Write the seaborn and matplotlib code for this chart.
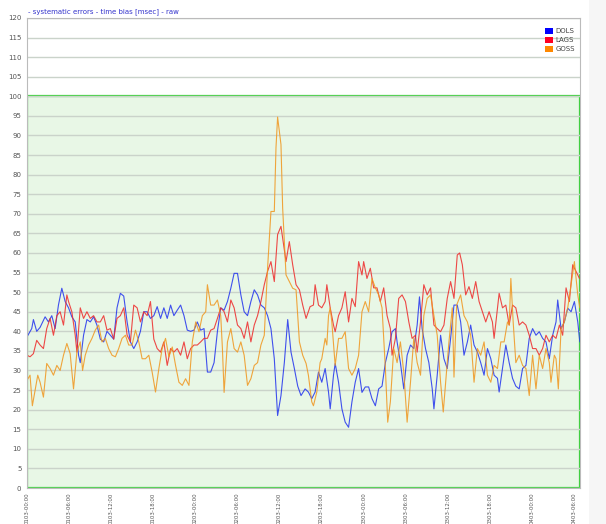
import numpy as np
import pandas as pd
import matplotlib
matplotlib.use("Agg")
import matplotlib.pyplot as plt
from matplotlib.patches import Rectangle, Patch
import seaborn as sns

# ---- data (hours since 01/03 00:00, bias in msec) ----
dols_h = [0.0, 0.67, 0.91, 1.38, 1.86, 2.58, 3.05, 3.53, 4.01, 4.48, 4.96, 5.44, 5.92, 6.39,
          6.87, 7.35, 7.59, 8.06, 8.54, 9.02, 9.49, 9.97, 10.45, 10.93, 11.4, 11.88, 12.36,
          12.83, 13.31, 13.79, 14.27, 14.74, 15.22, 15.7, 16.17, 16.65, 17.13, 17.6, 18.08,
          18.56, 19.04, 19.51, 19.99, 20.47, 20.94, 21.42, 21.9, 22.38, 22.85, 23.33, 23.81,
          24.28, 24.76, 25.24, 25.72, 26.19, 26.67, 27.15, 27.62, 28.1, 28.58, 29.06, 29.53,
          30.01, 30.49, 30.96, 31.44, 31.92, 32.4, 32.87, 33.35, 33.83, 34.3, 34.78, 35.26,
          35.73, 36.21, 36.69, 37.17, 37.64, 38.12, 38.6, 39.07,
          39.65, 40.12, 40.6, 41.08, 41.56, 42.03, 42.51, 42.99, 43.23, 43.7, 43.94, 44.42,
          44.9, 45.37, 45.85, 46.33, 46.8, 47.28, 47.76, 48.23, 48.71, 49.19, 49.67, 50.14,
          50.62, 51.1, 51.57, 52.05, 52.53, 52.77, 53.24, 53.72, 54.2, 54.68, 55.15, 55.63,
          55.96, 56.34, 56.82, 57.3, 57.78, 58.02, 58.49, 58.97, 59.45, 59.92, 60.4, 60.88,
          61.35, 61.83, 62.31, 62.79, 63.26, 63.74, 64.22, 64.69, 65.17, 65.65, 66.13, 66.6,
          67.08, 67.32, 67.8, 68.27, 68.75, 69.23, 69.7, 70.18, 70.66, 71.14, 71.61, 72.09,
          72.57, 73.04, 73.52, 74.0, 74.47, 74.95, 75.43, 75.67, 76.15, 76.62, 77.1, 77.58,
          78.05, 78.53, 78.82]
dols_v = [38.6, 40.7, 43, 40, 41, 43.7, 42.4, 44, 40.7, 46.7, 51, 47.6, 46, 43.7,
          42.4, 33.9, 32, 39, 43, 42.4, 43.7, 41.6, 38, 37.3, 40, 39, 38,
          46, 49.7, 49, 42.4, 37.3, 35.6, 37.3, 40, 45, 45, 43.3, 44,
          46.3, 43.3, 46, 43.3, 46.7, 44, 45.4, 46.7, 44, 40.3, 40, 40.3,
          42.4, 40.3, 40.7, 29.6, 29.6, 32, 40, 46, 45.4, 47.6, 51, 54.8,
          54.8, 49.3, 45, 44, 47.6, 50.6, 49.3, 46.7, 46, 44, 40.7, 33,
          18.5, 23.6, 32, 43, 34.7, 30.5, 26, 23.6,
          25.3, 24.5, 22.8, 24.5, 29.6, 27, 30.5, 24.5, 20.2, 28.8, 31.8, 27,
          20.2, 16.8, 15.5, 22, 27, 30.5, 24.4, 25.8, 25.8, 22.8, 21, 25.3,
          26, 32, 35.6, 39.9, 40.7, 37.3, 32, 25.3, 33.9, 36.5, 35.6, 41.6,
          48.8, 40.7, 35.6, 32, 25.3, 20.2, 28.8, 39, 33, 30.5, 38.2, 46.7,
          46.7, 42.4, 33.9, 37.3, 41.6, 36.5, 34.7, 32, 28.8, 35.6, 33, 28.8,
          28, 24.5, 30.5, 36.5, 32, 28, 26, 25.3, 30.5, 31.3, 38.2, 40.7,
          39, 39.9, 38.2, 37.3, 33, 39, 42.4, 48, 40.7, 42.4, 45.9, 45,
          47.6, 42.4, 37.3]

lags_h = [0.0, 0.43, 0.91, 1.38, 1.86, 2.34, 2.81, 3.29, 3.77, 4.25, 4.72, 5.2, 5.68, 5.92,
          6.39, 6.87, 7.11, 7.59, 8.06, 8.54, 9.02, 9.49, 9.97, 10.45, 10.93, 11.4, 11.88,
          12.36, 12.83, 13.31, 13.79, 14.27, 14.74, 15.22, 15.7, 16.17, 16.65, 17.13, 17.6,
          18.08, 18.56, 19.04, 19.51, 19.99, 20.47, 20.94, 21.42, 21.9, 22.38, 22.85, 23.33,
          23.81, 24.28, 24.76, 25.24, 25.72, 26.19, 26.67, 27.15, 27.62, 28.1, 28.58, 29.06,
          29.53, 30.01, 30.49, 30.96, 31.44, 31.92, 32.4, 32.87, 33.35, 33.83, 34.3, 34.78,
          35.26, 35.73, 36.21, 36.45, 36.93, 37.4, 37.88, 38.36, 38.84, 39.31, 39.79,
          40.36, 40.84, 41.08, 41.56, 42.03, 42.51, 42.75, 43.23, 43.7, 43.94, 44.42, 44.9,
          45.37, 45.85, 46.33, 46.8, 47.28, 47.76, 48.0, 48.47, 48.95, 49.43, 49.9, 50.38,
          50.86, 51.34, 51.81, 52.05, 52.53, 53.0, 53.48, 53.96, 54.44, 54.91, 55.39, 55.63,
          56.11, 56.58, 57.06, 57.54, 58.02, 58.49, 58.97, 59.45, 59.92, 60.4, 60.88, 61.35,
          61.69, 62.07, 62.55, 63.02, 63.5, 63.98, 64.46, 64.93, 65.41, 65.89, 66.36, 66.6,
          67.08, 67.32, 67.8, 68.27, 68.75, 69.23, 69.7, 70.18, 70.66, 71.14, 71.61, 72.09,
          72.57, 73.04, 73.52, 74.0, 74.47, 74.95, 75.43, 75.91, 76.38, 76.86, 77.34, 77.81,
          78.29, 78.77]
lags_v = [33.9, 33.5, 34.3, 37.7, 36.5, 35.6, 40.7, 43.3, 39, 44, 45, 41.6, 49.3, 47.6,
          45, 39, 34.7, 46, 43.3, 45, 43.3, 44, 42.4, 42.4, 44, 40.3, 40.7,
          38, 43.3, 44, 46, 39, 37.3, 46.7, 46, 42.4, 45, 44, 47.6,
          38, 35.6, 34.7, 37.3, 31.3, 35.6, 34.7, 35.6, 33.9, 37.3, 33, 35.6,
          36.5, 36.5, 37.3, 38.2, 38.2, 40.3, 40.7, 43.3, 46, 45, 42.4, 48,
          46, 41.6, 40.7, 38.2, 42.4, 37.3, 41.6, 44, 47.6, 51.9, 55.3, 57.8,
          52.7, 64.7, 66.8, 63.8, 57.8, 62.9, 57, 51.9, 50.6, 46.7, 43.3,
          46.3, 46.7, 51.9, 46.7, 46, 47.6, 51.9, 46, 41.6, 39.9, 44, 46,
          50.1, 42.4, 48.4, 46.3, 57.8, 54.4, 57.8, 53.5, 56.1, 51.1, 51.1, 47.6,
          51.1, 44, 40.7, 33.9, 38.2, 48.4, 49.3, 47.6, 42.4, 38.2, 39, 34.7,
          42.4, 51.9, 49.3, 51.1, 41.6, 40.7, 39.9, 41.6, 48.4, 52.7, 48.4, 59.5,
          60, 57, 49.3, 51.4, 48.4, 52.7, 47.6, 45, 42.4, 45, 42.4, 38.2,
          46, 49.7, 46, 46.7, 41.6, 46.7, 46, 41.6, 42.4, 41.6, 39, 35.6,
          35.6, 33.9, 35.6, 39, 37.3, 39, 38.2, 41.6, 39, 51.1, 47.6, 57,
          55.3, 53.5]

goss_h = [0.0, 0.43, 0.76, 1.15, 1.53, 1.86, 2.34, 2.81, 3.29, 3.77, 4.25, 4.72, 5.2, 5.68,
          6.15, 6.63, 7.11, 7.59, 7.92, 8.3, 8.78, 9.26, 9.73, 10.21, 10.69, 11.16, 11.64,
          12.12, 12.6, 13.07, 13.55, 14.03, 14.5, 14.98, 15.46, 15.94, 16.41, 16.89, 17.37,
          17.84, 18.32, 18.8, 19.27, 19.75, 20.23, 20.71, 21.18, 21.66, 22.14, 22.61, 23.09,
          23.57, 24.05, 24.52, 25.0, 25.48, 25.72, 26.19, 26.67, 27.15, 27.62, 27.86, 28.1,
          28.58, 29.06, 29.53, 30.01, 30.49, 30.96, 31.44, 31.92, 32.4, 32.87, 33.35, 33.83,
          34.3, 34.78, 35.26, 35.5, 35.73, 36.21, 36.45, 36.93, 37.4, 37.88, 38.36, 38.84,
          39.31, 39.79,
          40.12, 40.6, 40.84, 41.32, 41.79, 42.03, 42.51, 42.75, 42.99, 43.23, 43.46, 43.94,
          44.42, 44.9, 45.37, 45.85, 46.33, 46.8, 47.28, 47.76, 48.23, 48.71, 49.19, 49.67,
          50.14, 50.62, 51.1, 51.43, 51.81, 52.29, 52.77, 53.24, 53.72, 54.2, 54.68, 55.15,
          55.63, 56.11, 56.58, 57.06, 57.54, 58.02, 58.49, 58.97, 59.35, 59.69, 60.16, 60.64,
          60.88, 61.26, 61.83, 62.31, 62.79, 63.26, 63.74, 64.22, 64.69, 65.17, 65.65, 66.13,
          66.6, 67.08, 67.56, 68.03, 68.51, 68.75, 68.99, 69.32, 69.7, 70.18, 70.66, 71.14,
          71.61, 72.09, 72.57, 73.04, 73.52, 74.0, 74.47, 74.71, 75.19, 75.43, 75.76, 76.15,
          76.62, 77.1, 77.58, 78.05, 78.53, 78.82]
goss_v = [27.5, 28.8, 21, 25, 28.8, 27, 23.2, 31.8, 30.5, 28.8, 31.3, 30, 33.9, 36.9,
          34.3, 25.3, 34.7, 37.3, 30, 33.9, 36.5, 38.2, 40.3, 41.6, 37.3, 38.2, 35.6,
          33.9, 33.5, 35.6, 38.2, 39, 36.5, 36.5, 40.3, 37.3, 33, 33, 33.9,
          29.6, 24.5, 30.5, 35.6, 38.2, 33.5, 36, 31.3, 27, 26.2, 27.9, 26.2,
          37.3, 42.4, 39.9, 44, 45, 51.9, 46.7, 46.7, 48, 44, 35.6, 24.4,
          37.3, 40.7, 35.6, 34.7, 37.3, 33.9, 26.2, 27.9, 31.3, 32, 36.5, 39,
          56.1, 70.6, 70.6, 86.9, 94.7, 87.7, 71.5, 54.4, 52.7, 51, 50.6, 37.3,
          33.9, 31.8,
          28.8, 22, 21, 24.5, 32, 33, 38.2, 36.5, 44, 46, 42.4, 31.3,
          38.2, 38.2, 39.9, 30.5, 28.8, 30.5, 33.9, 45, 47.6, 45, 53.5, 51.1,
          49.3, 46, 30.5, 16.8, 22, 35.6, 32, 37.3, 29.6, 16.8, 27, 38.2,
          32, 28.8, 44, 48.4, 49.3, 44, 39, 27, 19.4, 27, 37.3, 46,
          28.3, 46.7, 49.3, 44, 42.4, 39, 27, 35.6, 33.9, 37.3, 28.8, 27,
          31.3, 30.5, 37.3, 37.3, 42.4, 41.6, 53.5, 42.4, 32, 33.9, 31.3, 30.5,
          23.6, 33.9, 25.3, 33.9, 30.5, 35.6, 32, 27, 33.9, 33, 25.3, 40.7,
          42.4, 46, 51.9, 57.8, 49.3, 46]

series_names = ["DOLS", "LAGS", "GOSS"]
line_colors = ["#2233ee", "#ee2a2a", "#f0961e"]
legend_colors = ["#0000ff", "#ff0022", "#ff8800"]
tick_hours = list(range(0, 79, 6))
tick_labels = ["0103-00:00", "0103-06:00", "0103-12:00", "0103-18:00",
               "0203-00:00", "0203-06:00", "0203-12:00", "0203-18:00",
               "0303-00:00", "0303-06:00", "0303-12:00", "0303-18:00",
               "0403-00:00", "0403-06:00"]

frames = []
for name, h, v in [("DOLS", dols_h, dols_v), ("LAGS", lags_h, lags_v), ("GOSS", goss_h, goss_v)]:
    frames.append(pd.DataFrame({"hour": h, "bias": v, "station": name}))
df = pd.concat(frames, ignore_index=True)

sns.set_style("white")
fig = plt.figure(figsize=(6.06, 5.24), dpi=100)
fig.patch.set_facecolor("white")
# light grey strip on the right side of the image
fig.patches.append(Rectangle((0.972, 0), 0.028, 1, transform=fig.transFigure,
                             facecolor="#f6f6f6", edgecolor="none", zorder=0))
ax = fig.add_axes([0.0446, 0.0687, 0.9125, 0.897])
ax.set_facecolor("white")

xmax = 78.85
ax.add_patch(Rectangle((0, 0), xmax, 100, facecolor="#e8f7e6", edgecolor="#3ad13a",
                       lw=1.6, zorder=1))

sns.lineplot(data=df, x="hour", y="bias", hue="station", hue_order=series_names,
             palette=dict(zip(series_names, line_colors)), estimator=None, sort=False,
             lw=0.8, alpha=0.85, legend=False, ax=ax, zorder=2)

ax.set_xlim(0, xmax)
ax.set_ylim(0, 120)
ax.set_yticks(range(0, 121, 5))
ax.set_xticks(tick_hours)
ax.set_xticklabels(tick_labels, rotation=90, fontsize=3.9, color="#555555")
ax.tick_params(axis="y", labelsize=5, colors="#555555", length=0, pad=4)
ax.tick_params(axis="x", length=2, width=0.6, color="#888888", pad=1)
ax.set_axisbelow("line")
ax.grid(axis="y", color="#cad3ca", lw=1.0)
ax.grid(axis="x", visible=False)
ax.set_xlabel("")
ax.set_ylabel("")
for side in ["left", "top", "right", "bottom"]:
    ax.spines[side].set_color("#bbbbbb")
    ax.spines[side].set_linewidth(0.8)

handles = [Patch(facecolor=c, edgecolor="none", label=n) for n, c in zip(series_names, legend_colors)]
leg = ax.legend(handles=handles, loc="upper right", bbox_to_anchor=(1.0, 0.99), frameon=False,
                fontsize=5, handlelength=1.1, handleheight=1.1, handletextpad=0.4,
                labelspacing=0.35, borderaxespad=0.3)
for t in leg.get_texts():
    t.set_color("#444444")

fig.text(0.046, 0.978, "- systematic errors - time bias [msec] - raw", fontsize=5,
         color="#3333cc", ha="left", va="center")

fig.savefig("out.png", dpi=100)
